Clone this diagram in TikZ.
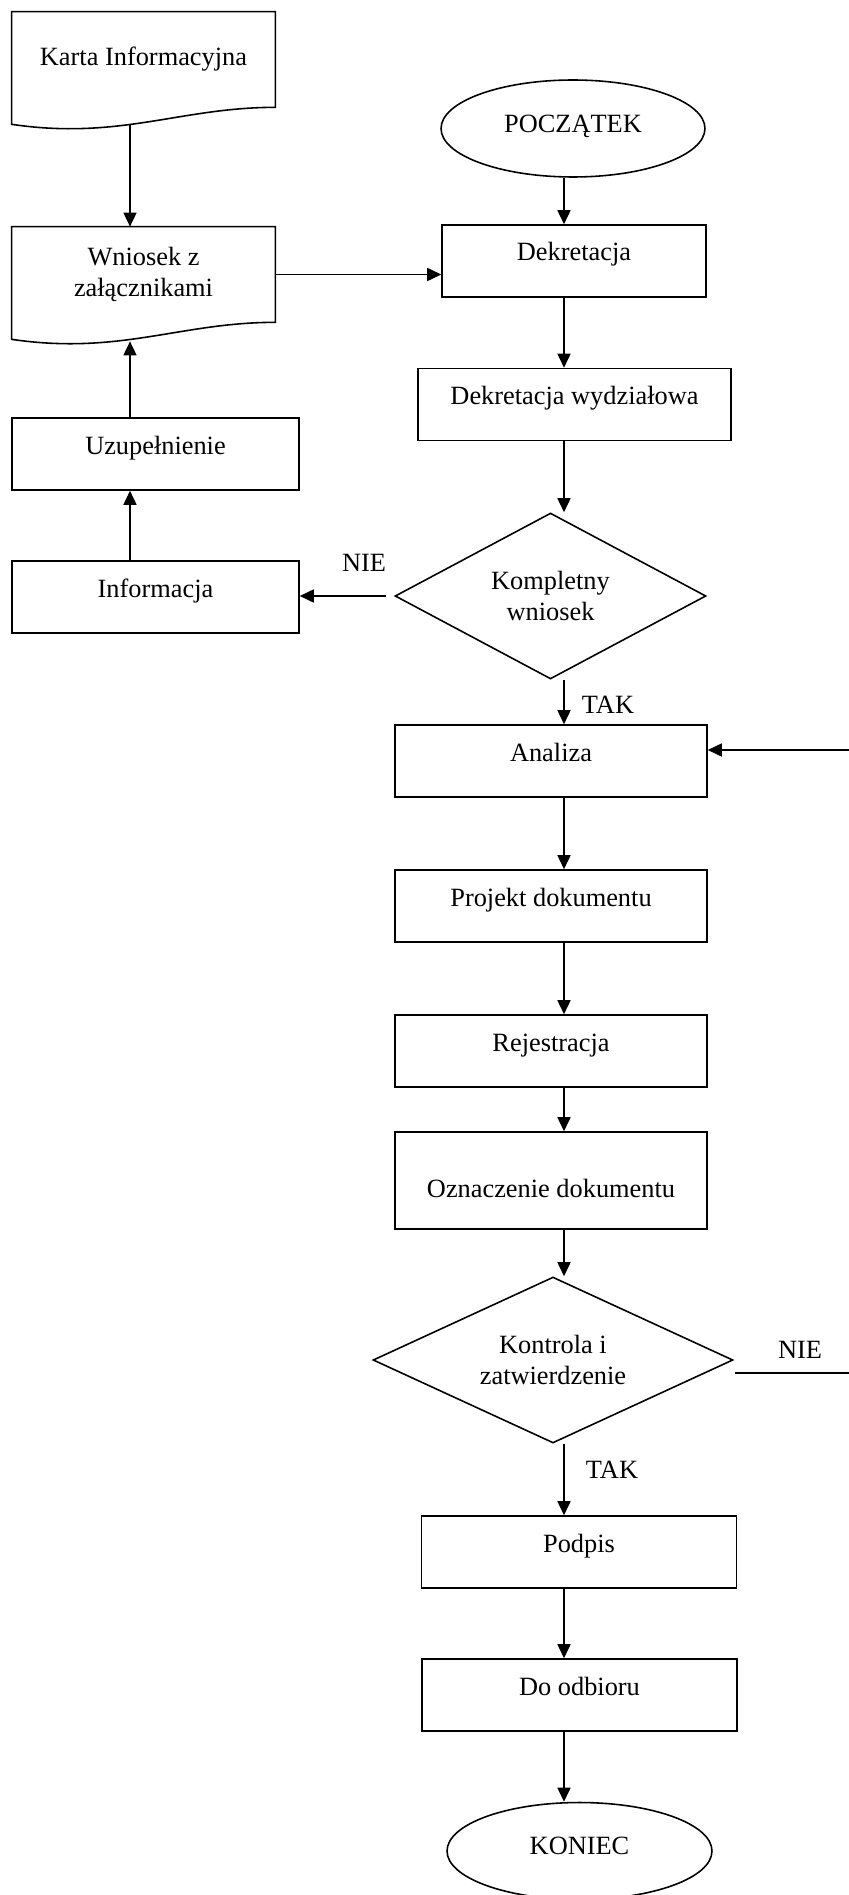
\documentclass[tikz,border=0pt]{standalone}
\usepackage{fontspec}
\setmainfont{Liberation Serif}
\usetikzlibrary{arrows.meta, positioning, calc, shapes.geometric}

\begin{document}
\begin{tikzpicture}[x=0.02cm, y=-0.02cm, font=\fontsize{15}{17.5}\selectfont,
  ramka/.style={line width=0.9pt},
  krok/.style={draw, rectangle, ramka, minimum height=1.44cm, inner sep=0pt, text height=8pt, text depth=8pt},
  dokument/.style={rectangle, minimum width=5.26cm, minimum height=1.9cm, inner sep=0pt, align=center},
  decyzja/.style={draw, diamond, ramka, inner sep=0pt, align=center},
  terminal/.style={draw, ellipse, ramka, minimum width=5.28cm, minimum height=1.94cm, inner sep=0pt, text height=8pt, text depth=4pt},
  strzalka/.style={ramka, -{Triangle[length=2.8mm, width=2.6mm]}},
  etykieta/.style={inner sep=0pt}]
  \useasboundingbox (0,0) rectangle (848,1895);

  % Kolumna lewa
  \node[dokument] (karta) at (143.5,59.5) {Karta Informacyjna};
  \node[dokument] (wniosek) at (143.5,274.5) {Wniosek z\\załącznikami};
  \node[krok, minimum width=5.74cm] (uzupelnienie) at (155.5,454) {Uzupełnienie};
  \node[krok, minimum width=5.74cm] (informacja) at (155.5,597) {Informacja};
  \draw[ramka] (karta.north west) -- ($(karta.south west)+(0,17)$) .. controls ($(karta.south west)+(108,33)$) and ($(karta.south east)+(-95,0)$) .. (karta.south east) -- (karta.north east) -- cycle;
  \draw[ramka] (wniosek.north west) -- ($(wniosek.south west)+(0,17)$) .. controls ($(wniosek.south west)+(108,33)$) and ($(wniosek.south east)+(-95,0)$) .. (wniosek.south east) -- (wniosek.north east) -- cycle;

  % Kolumna glowna
  \node[terminal] (poczatek) at (573,128.5) {POCZĄTEK};
  \node[krok, minimum width=5.28cm] (dekretacja) at (574,261) {Dekretacja};
  \node[krok, minimum width=6.26cm] (wydzialowa) at (574.5,404.5) {Dekretacja wydziałowa};
  \node[decyzja, aspect=1.87, minimum width=6.22cm, minimum height=3.32cm] (kompletny) at (550.5,596) {Kompletny\\wniosek};
  \node[krok, minimum width=6.24cm] (analiza) at (551,761) {Analiza};
  \node[krok, minimum width=6.24cm] (projekt) at (551,906) {Projekt dokumentu};
  \node[krok, minimum width=6.24cm] (rejestracja) at (551,1051) {Rejestracja};
  \node[krok, minimum width=6.24cm, minimum height=1.94cm, text height=27pt] (oznaczenie) at (551,1180.5) {Oznaczenie dokumentu};
  \node[decyzja, aspect=2.17, minimum width=7.2cm, minimum height=3.32cm] (kontrola) at (553,1360) {Kontrola i\\zatwierdzenie};
  \node[krok, minimum width=6.3cm] (podpis) at (579,1552) {Podpis};
  \node[krok, minimum width=6.3cm] (odbior) at (579.5,1695) {Do odbioru};
  \node[terminal, minimum width=5.3cm] (koniec) at (579.5,1851) {KONIEC};

  % Etykiety
  \node[etykieta] (nie1) at (364,563) {NIE};
  \node[etykieta] (tak1) at (608,705) {TAK};
  \node[etykieta] (nie2) at (800,1350) {NIE};
  \node[etykieta] (tak2) at (612,1470) {TAK};

  % Polaczenia
  \coordinate (kol) at (564,0);
  \coordinate (lewa) at (130,0);
  \coordinate (powrot) at (860,750);
  \draw[strzalka] ($(karta.south -| lewa)+(0,18)$) -- (wniosek.north -| lewa);
  \draw[strzalka] (informacja.north -| lewa) -- (uzupelnienie.south -| lewa);
  \draw[strzalka] (uzupelnienie.north -| lewa) -- ($(wniosek.south -| lewa)+(0,19)$);
  \draw[strzalka] (wniosek.east) -- (dekretacja.west |- wniosek.east);
  \draw[strzalka] (poczatek.south -| kol) -- (dekretacja.north -| kol);
  \draw[strzalka] (dekretacja.south -| kol) -- (wydzialowa.north -| kol);
  \draw[strzalka] (wydzialowa.south -| kol) -- (kompletny.north -| kol);
  \draw[strzalka] ($(kompletny.west)+(-8,0)$) -- (informacja.east |- kompletny.west);
  \draw[strzalka] (kompletny.south -| kol) -- (analiza.north -| kol);
  \draw[strzalka] (analiza.south -| kol) -- (projekt.north -| kol);
  \draw[strzalka] (projekt.south -| kol) -- (rejestracja.north -| kol);
  \draw[strzalka] (rejestracja.south -| kol) -- (oznaczenie.north -| kol);
  \draw[strzalka] (oznaczenie.south -| kol) -- (kontrola.north -| kol);
  \draw[strzalka] ($(kontrola.east)+(1,13)$) -| (powrot) -- (analiza.east |- powrot);
  \draw[strzalka] (kontrola.south -| kol) -- (podpis.north -| kol);
  \draw[strzalka] (podpis.south -| kol) -- (odbior.north -| kol);
  \draw[strzalka] (odbior.south -| kol) -- (koniec.north -| kol);
\end{tikzpicture}
\end{document}
